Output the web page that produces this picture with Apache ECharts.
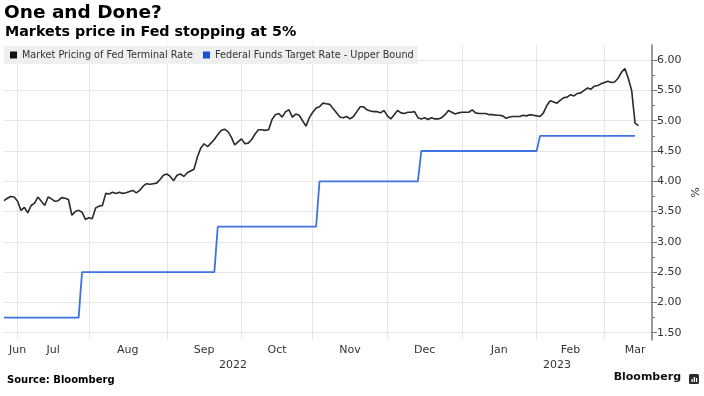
<!DOCTYPE html>
<html><head><meta charset="utf-8">
<script src="https://cdn.jsdelivr.net/npm/echarts@6/dist/echarts.min.js"></script>
<style>html,body{margin:0;padding:0;background:#fff}#c{width:704px;height:396px}</style>
</head><body><div id="c"></div>
<script>
const titleText = 'One and Done?';
const subtitleText = 'Markets price in Fed stopping at 5%';
const sourceText = 'Source: Bloomberg';
const brandText = 'Bloomberg';
const seriesNames = ['Market Pricing of Fed Terminal Rate', 'Federal Funds Target Rate - Upper Bound'];
const axisStart = '2022-06-27';
const axisEnd = '2023-03-21';
const monthNames = ['Jan','Feb','Mar','Apr','May','Jun','Jul','Aug','Sep','Oct','Nov','Dec'];
const yMajorTicks = [1.5, 2.0, 2.5, 3.0, 3.5, 4.0, 4.5, 5.0, 5.5, 6.0];
const yMinorTicks = [1.75, 2.25, 2.75, 3.25, 3.75, 4.25, 4.75, 5.25, 5.75];
const yMin = 1.38, yMax = 6.25;

const terminalDates = [
 '2022-06-27','2022-06-28','2022-06-29','2022-06-30',
 '2022-07-01','2022-07-04','2022-07-05','2022-07-06','2022-07-07','2022-07-08','2022-07-11','2022-07-12','2022-07-13','2022-07-14','2022-07-15','2022-07-18','2022-07-19','2022-07-20','2022-07-21','2022-07-22','2022-07-25','2022-07-26','2022-07-27','2022-07-28','2022-07-29',
 '2022-08-01','2022-08-02','2022-08-03','2022-08-04','2022-08-05','2022-08-08','2022-08-09','2022-08-10','2022-08-11','2022-08-12','2022-08-15','2022-08-16','2022-08-17','2022-08-18','2022-08-19','2022-08-22','2022-08-23','2022-08-24','2022-08-25','2022-08-26','2022-08-29','2022-08-30','2022-08-31',
 '2022-09-01','2022-09-02','2022-09-05','2022-09-06','2022-09-07','2022-09-08','2022-09-09','2022-09-12','2022-09-13','2022-09-14','2022-09-15','2022-09-16','2022-09-19','2022-09-20','2022-09-21','2022-09-22','2022-09-23','2022-09-26','2022-09-27','2022-09-28','2022-09-29','2022-09-30',
 '2022-10-03','2022-10-04','2022-10-05','2022-10-06','2022-10-07','2022-10-10','2022-10-11','2022-10-12','2022-10-13','2022-10-14','2022-10-17','2022-10-18','2022-10-19','2022-10-20','2022-10-21','2022-10-24','2022-10-25','2022-10-26','2022-10-27','2022-10-28','2022-10-31',
 '2022-11-01','2022-11-02','2022-11-03','2022-11-04','2022-11-07','2022-11-08','2022-11-09','2022-11-10','2022-11-11','2022-11-14','2022-11-15','2022-11-16','2022-11-17','2022-11-18','2022-11-21','2022-11-22','2022-11-23','2022-11-24','2022-11-25','2022-11-28','2022-11-29','2022-11-30',
 '2022-12-01','2022-12-02','2022-12-05','2022-12-06','2022-12-07','2022-12-08','2022-12-09','2022-12-12','2022-12-13','2022-12-14','2022-12-15','2022-12-16','2022-12-19','2022-12-20','2022-12-21','2022-12-22','2022-12-23','2022-12-26','2022-12-27','2022-12-28','2022-12-29','2022-12-30',
 '2023-01-02','2023-01-03','2023-01-04','2023-01-05','2023-01-06','2023-01-09','2023-01-10','2023-01-11','2023-01-12','2023-01-13','2023-01-16','2023-01-17','2023-01-18','2023-01-19','2023-01-20','2023-01-23','2023-01-24','2023-01-25','2023-01-26','2023-01-27','2023-01-30','2023-01-31',
 '2023-02-01','2023-02-02','2023-02-03','2023-02-06','2023-02-07','2023-02-08','2023-02-09','2023-02-10','2023-02-13','2023-02-14','2023-02-15','2023-02-16','2023-02-17','2023-02-20','2023-02-21','2023-02-22','2023-02-23','2023-02-24','2023-02-27','2023-02-28',
 '2023-03-01','2023-03-02','2023-03-03','2023-03-06','2023-03-07','2023-03-08','2023-03-09','2023-03-10','2023-03-13','2023-03-14','2023-03-15'
];
const terminalValues = [
 3.68,3.72,3.75,3.74,
 3.67,3.52,3.57,3.48,3.60,3.64,3.74,3.67,3.60,3.74,3.71,3.67,3.68,3.73,3.72,3.70,3.44,3.50,3.52,3.49,3.37,
 3.40,3.38,3.56,3.59,3.60,3.80,3.79,3.82,3.80,3.82,3.80,3.81,3.83,3.85,3.81,3.85,3.92,3.96,3.95,3.96,3.97,4.03,4.10,
 4.12,4.08,4.01,4.10,4.12,4.08,4.14,4.17,4.20,4.40,4.55,4.62,4.57,4.63,4.69,4.77,4.84,4.86,4.82,4.73,4.60,4.65,
 4.70,4.62,4.63,4.69,4.78,4.85,4.85,4.84,4.85,5.02,5.10,5.12,5.06,5.15,5.18,5.06,5.11,5.09,5.00,4.91,5.05,
 5.14,5.21,5.23,5.29,5.28,5.27,5.20,5.13,5.06,5.05,5.07,5.03,5.07,5.15,5.23,5.23,5.18,5.16,5.15,5.15,5.13,5.17,
 5.08,5.03,5.10,5.17,5.13,5.12,5.14,5.14,5.15,5.05,5.03,5.05,5.02,5.05,5.03,5.03,5.05,5.10,5.17,5.14,5.11,5.13,
 5.14,5.14,5.14,5.18,5.13,5.12,5.12,5.12,5.10,5.10,5.09,5.09,5.08,5.04,5.06,5.07,5.07,5.07,5.09,5.08,5.10,5.09,
 5.08,5.07,5.13,5.25,5.33,5.31,5.29,5.34,5.38,5.39,5.43,5.41,5.45,5.46,5.50,5.54,5.52,5.57,5.58,5.61,
 5.63,5.65,5.63,5.64,5.70,5.80,5.86,5.70,5.50,4.96,4.92
];
const fedDates = ['2022-06-27','2022-07-27','2022-07-28','2022-09-21','2022-09-22','2022-11-02','2022-11-03','2022-12-14','2022-12-15','2023-02-01','2023-02-02','2023-03-14'];
const fedValues = [1.75, 1.75, 2.50, 2.50, 3.25, 3.25, 4.00, 4.00, 4.50, 4.50, 4.75, 4.75];

const DAY = 86400000;
function parseD(s){ const p = s.split('-').map(Number); return Date.UTC(p[0], p[1]-1, p[2]); }
function fmt(y, m, d){ return y + '-' + String(m+1).padStart(2,'0') + '-' + String(d).padStart(2,'0'); }
function bizIndex(s){
  const a = parseD(axisStart), b = parseD(s); let n = 0;
  if (b >= a) { for (let t = a; t < b; t += DAY) { const w = new Date(t).getUTCDay(); if (w !== 0 && w !== 6) n++; } }
  else { for (let t = b; t < a; t += DAY) { const w = new Date(t).getUTCDay(); if (w !== 0 && w !== 6) n--; } }
  return n;
}
const xMin = 0, xMax = bizIndex(axisEnd);
const monthStarts = [], monthLabelPos = [], monthLabelText = {};
(function(){
  const sD = new Date(parseD(axisStart)), eD = new Date(parseD(axisEnd));
  let yy = sD.getUTCFullYear(), mm = sD.getUTCMonth();
  while (yy < eD.getUTCFullYear() || (yy === eD.getUTCFullYear() && mm <= eD.getUTCMonth())) {
    const ny = mm === 11 ? yy + 1 : yy, nm = (mm + 1) % 12;
    const s = bizIndex(fmt(yy, mm, 1)), e = bizIndex(fmt(ny, nm, 1));
    if (s > xMin && s < xMax) monthStarts.push(s);
    let mid = (s + e) / 2; mid = Math.min(Math.max(mid, xMin + 4), xMax - 5);
    monthLabelPos.push(mid); monthLabelText[mid.toFixed(2)] = monthNames[mm];
    yy = ny; mm = nm;
  }
})();
const yearLabelPos = [], yearLabelText = {};
(function(){
  for (let y = new Date(parseD(axisStart)).getUTCFullYear(); y <= new Date(parseD(axisEnd)).getUTCFullYear(); y++) {
    const s = Math.max(xMin, bizIndex(y + '-01-01')), e = Math.min(xMax, bizIndex((y+1) + '-01-01'));
    const mid = (s + e) / 2; yearLabelPos.push(mid); yearLabelText[mid.toFixed(2)] = String(y);
  }
})();

const terminalData = terminalDates.map((d, i) => [bizIndex(d), terminalValues[i]]);
const fedData = fedDates.map((d, i) => [bizIndex(d), fedValues[i]]);

const FONT = 'DejaVu Sans';
const chart = echarts.init(document.getElementById('c'), null, {renderer: 'canvas'});
chart.setOption({
  animation: false,
  backgroundColor: '#fff',
  textStyle: {fontFamily: FONT},
  title: [
    {text: titleText, left: 4, top: 4, padding: 0, textStyle: {fontFamily: FONT, fontWeight: 'bold', fontSize: 18.5, color: '#000'}},
    {text: subtitleText, left: 5, top: 25.5, padding: 0, textStyle: {fontFamily: FONT, fontWeight: 'bold', fontSize: 14.3, color: '#000'}},
    {text: sourceText, left: 7, top: 375, padding: 0, textStyle: {fontFamily: FONT, fontWeight: 'bold', fontSize: 10, color: '#000'}},
    {text: brandText, right: 23, top: 372, padding: 0, textStyle: {fontFamily: FONT, fontWeight: 'bold', fontSize: 11, color: '#111'}}
  ],
  graphic: [
    {type: 'rect', left: 689, top: 374, shape: {width: 10, height: 10, r: 1.5}, style: {fill: '#2b2b2b'}},
    {type: 'rect', left: 691.5, top: 379, shape: {width: 1.3, height: 3}, style: {fill: '#fff'}},
    {type: 'rect', left: 693.7, top: 377, shape: {width: 1.3, height: 5}, style: {fill: '#fff'}},
    {type: 'rect', left: 695.9, top: 378, shape: {width: 1.3, height: 4}, style: {fill: '#fff'}}
  ],
  legend: {
    left: 4, top: 46, padding: [4, 4, 4, 6], backgroundColor: '#efefef',
    itemWidth: 7, itemHeight: 7, itemGap: 10, icon: 'rect',
    textStyle: {fontFamily: FONT, fontSize: 9.7, color: '#333'},
    data: [
      {name: seriesNames[0], itemStyle: {color: '#111'}},
      {name: seriesNames[1], itemStyle: {color: '#1a4fd8'}}
    ]
  },
  grid: {left: 4, right: 52, top: 45, bottom: 56, containLabel: false, outerBoundsMode: 'none'},
  xAxis: [
    {
      type: 'value', min: xMin, max: xMax, position: 'bottom',
      axisLine: {show: false, onZero: false},
      axisTick: {show: false, customValues: monthStarts},
      splitLine: {show: true, lineStyle: {color: '#e6e6e6', width: 1}},
      axisLabel: {customValues: monthLabelPos, margin: 5, fontFamily: FONT, fontSize: 11, color: '#333',
        formatter: v => monthLabelText[Number(v).toFixed(2)] || ''}
    },
    {
      type: 'value', min: xMin, max: xMax, position: 'bottom', offset: 15,
      axisLine: {show: false, onZero: false}, axisTick: {show: false}, splitLine: {show: false},
      axisLabel: {customValues: yearLabelPos, margin: 5, fontFamily: FONT, fontSize: 11, color: '#333',
        formatter: v => yearLabelText[Number(v).toFixed(2)] || ''}
    }
  ],
  yAxis: [
    {
      type: 'value', min: yMin, max: yMax, position: 'right',
      axisLine: {show: true, onZero: false, lineStyle: {color: '#777', width: 1.5}},
      axisTick: {show: true, customValues: yMinorTicks, length: 3, lineStyle: {color: '#777', width: 1}},
      axisLabel: {show: false}, splitLine: {show: false}
    },
    {
      type: 'value', min: yMin, max: yMax, position: 'right',
      name: '%', nameLocation: 'middle', nameGap: 36, nameRotate: -90, nameMoveOverlap: false,
      nameTextStyle: {fontFamily: FONT, fontSize: 11, color: '#333'},
      axisLine: {show: false, onZero: false},
      axisTick: {show: true, customValues: yMajorTicks, length: 5, lineStyle: {color: '#777', width: 1}},
      splitLine: {show: true, lineStyle: {color: '#e6e6e6', width: 1}},
      axisLabel: {customValues: yMajorTicks, margin: 5, fontFamily: FONT, fontSize: 11, color: '#333',
        formatter: v => Number(v).toFixed(2)}
    }
  ],
  series: [
    {
      name: seriesNames[0], type: 'line', xAxisIndex: 0, yAxisIndex: 1, data: terminalData,
      showSymbol: false, symbol: 'none', color: '#111',
      lineStyle: {color: '#2a2a2a', width: 1.6}, z: 3
    },
    {
      name: seriesNames[1], type: 'line', xAxisIndex: 0, yAxisIndex: 1, data: fedData,
      showSymbol: false, symbol: 'none', color: '#1a4fd8',
      lineStyle: {color: '#3f73e0', width: 1.8}, z: 2
    }
  ]
});
</script></body></html>
